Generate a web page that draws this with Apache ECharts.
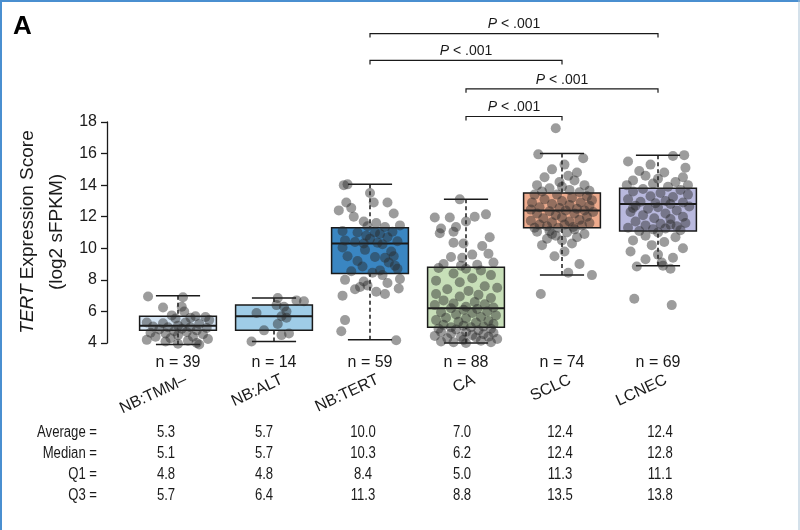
<!DOCTYPE html>
<html>
<head>
<meta charset="utf-8">
<script src="https://cdn.jsdelivr.net/npm/echarts@6/dist/echarts.min.js"></script>
<style>
  html, body { margin: 0; padding: 0; background: #ffffff; }
  #chart { width: 800px; height: 530px; }
</style>
</head>
<body>
<div id="chart"></div>
<script>
// ---------------- data ----------------
const categories = ['NB:TMM\u2013', 'NB:ALT', 'NB:TERT', 'CA', 'SCLC', 'LCNEC'];
const counts = [39, 14, 59, 88, 74, 69];
const average = [5.3, 5.7, 10.0, 7.0, 12.4, 12.4];
const median = [5.1, 5.7, 10.3, 6.2, 12.4, 12.8];
const q1 = [4.8, 4.8, 8.4, 5.0, 11.3, 11.1];
const q3 = [5.7, 6.4, 11.3, 8.8, 13.5, 13.8];
const whiskerLow = [3.9, 4.1, 4.2, 4.0, 8.3, 8.9];
const whiskerHigh = [7.0, 6.85, 14.05, 13.1, 16.0, 15.9];
const yTicks = { min: 4, max: 18, interval: 2 };
const boxColors = ['#d5e5f4', '#9fcce7', '#3a86c2', '#c7dfb8', '#eeab8d', '#b9b9de'];
// significance brackets: [from category, to category, height in axis units]
const brackets = [[2, 5, 23.6], [2, 4, 21.9], [3, 5, 20.1], [3, 4, 18.35]];
const bracketLabel = 'P < .001';

// jittered points per group: [horizontal jitter (category units), value]
const ptsTMM = [[-0.24,6.95],[0.04,6.9],[0.03,6.3],[-0.12,6.25],[0.05,6.0],[-0.05,5.75],[0.14,5.7],[0.22,5.65],[0.1,5.6],[-0.02,5.55],[0.25,5.45],[-0.25,5.3],[-0.12,5.25],[0.06,5.3],[0.17,5.2],[0.0,5.1],[-0.2,5.05],[-0.08,5.0],[0.1,5.0],[0.23,4.95],[0.03,4.9],[-0.15,4.85],[0.15,4.8],[-0.03,4.75],[0.07,4.7],[-0.22,4.65],[-0.1,4.6],[0.2,4.55],[0.0,4.5],[-0.18,4.4],[0.12,4.4],[-0.06,4.3],[0.24,4.25],[-0.25,4.2],[0.08,4.15],[-0.1,4.1],[0.15,4.0],[0.0,3.95],[0.17,3.9]];
const ptsALT = [[0.03,6.85],[0.24,6.65],[0.18,6.7],[0.02,6.4],[0.08,6.3],[0.1,6.0],[-0.14,5.9],[0.06,5.7],[0.1,5.6],[0.03,5.2],[-0.08,4.8],[0.12,4.6],[-0.18,4.1],[0.06,4.5]];
const ptsTERT = [[-0.21,14.0],[-0.18,14.05],[0.0,13.5],[-0.19,12.9],[0.03,12.9],[0.14,12.9],[-0.15,12.55],[-0.25,12.4],[0.19,12.2],[-0.13,12.0],[-0.05,11.7],[0.05,11.6],[0.24,11.45],[-0.02,11.4],[0.12,11.35],
  [-0.22,11.1],[-0.1,11.0],[0.04,11.0],[0.18,11.05],[0.08,10.9],[-0.03,10.8],[0.14,10.7],[0.0,10.6],[-0.2,10.5],[0.22,10.45],[-0.12,10.4],[0.06,10.35],[-0.05,10.3],[0.1,10.25],[-0.22,10.05],[-0.04,9.9],[0.17,9.8],[-0.18,9.5],[0.04,9.45],[0.19,9.5],[0.12,9.4],[-0.1,9.2],[0.15,9.1],[0.2,8.9],[-0.06,8.85],[0.22,8.7],[0.08,8.6],[-0.15,8.55],[0.02,8.45],
  [0.1,8.3],[-0.2,8.0],[0.24,8.05],[-0.05,7.9],[0.14,7.8],[-0.02,7.65],[0.23,7.45],[-0.12,7.4],[0.05,7.25],[-0.22,7.0],[0.12,7.1],[-0.2,5.45],[-0.23,4.75],[0.21,4.17],[-0.08,7.55]];
const ptsCA = [[-0.05,13.1],[-0.25,11.95],[-0.13,11.95],[0.16,12.15],[0.07,12.0],[0.0,11.7],[-0.2,11.25],[-0.08,11.35],[-0.21,10.95],[-0.1,11.05],[0.19,10.7],[-0.1,10.35],[0.13,10.15],[-0.02,10.3],[0.18,9.65],[-0.12,9.45],[-0.03,9.4],[0.22,9.1],[0.05,9.6],[-0.18,9.0],[0.09,8.95],[-0.04,8.9],
  [-0.22,8.75],[0.0,8.7],[0.12,8.6],[-0.1,8.4],[0.2,8.3],[0.05,8.1],[-0.24,7.95],[-0.05,7.85],[0.15,7.6],[0.25,7.5],[-0.15,7.4],[0.02,7.3],[-0.24,7.1],[0.1,7.05],[-0.05,6.95],[0.2,6.85],[-0.18,6.7],[0.07,6.6],[-0.1,6.5],[0.15,6.45],[-0.25,6.4],[0.0,6.3],[0.22,6.25],[-0.12,6.2],[0.09,6.15],[-0.02,6.1],[0.17,6.0],[-0.2,5.95],[0.05,5.9],[-0.08,5.8],[0.24,5.75],[0.12,5.65],[-0.16,5.6],[0.0,5.55],[-0.24,5.45],[0.18,5.4],[-0.06,5.35],[0.08,5.3],[0.22,5.2],[-0.18,5.15],[-0.02,5.1],[0.14,5.05],[-0.12,5.0],[0.04,5.0],
  [-0.22,4.9],[0.2,4.9],[-0.08,4.85],[0.1,4.8],[-0.2,4.7],[0.0,4.7],[0.22,4.65],[-0.12,4.6],[0.14,4.55],[0.05,4.5],[-0.25,4.45],[-0.04,4.4],[0.18,4.4],[0.08,4.35],[-0.15,4.3],[0.25,4.25],[-0.02,4.2],[0.12,4.15],[-0.2,4.1],[0.2,4.05],[0.0,4.0],[-0.1,4.05]];
const ptsSCLC = [[-0.05,17.6],[-0.19,15.95],[0.17,15.7],[0.02,15.3],[-0.08,15.0],[0.12,14.8],[-0.14,14.5],[0.05,14.6],[-0.02,14.2],[0.1,14.3],[-0.2,14.0],[0.18,14.0],[0.0,13.9],[-0.1,13.8],[0.06,13.7],[0.22,13.65],[-0.16,13.6],[0.14,13.55],
  [-0.22,13.4],[-0.04,13.4],[0.2,13.3],[0.08,13.2],[-0.14,13.1],[0.24,13.05],[0.0,13.0],[-0.24,12.9],[0.15,12.9],[-0.08,12.8],[0.06,12.75],[0.22,12.7],[-0.18,12.6],[-0.02,12.55],[0.12,12.5],[-0.25,12.45],[0.18,12.4],[0.03,12.4],[-0.1,12.35],[0.25,12.3],[-0.2,12.2],[0.1,12.2],[-0.05,12.1],[0.2,12.0],[0.0,11.95],[-0.15,11.9],[0.14,11.8],[-0.25,11.75],[0.06,11.7],[-0.08,11.65],[0.22,11.6],[-0.18,11.5],[0.02,11.5],[0.16,11.45],[-0.12,11.4],[0.09,11.35],[-0.03,11.3],[-0.22,11.3],
  [0.1,11.2],[-0.1,11.1],[0.04,11.0],[-0.2,11.05],[0.18,10.9],[-0.05,10.8],[0.12,10.7],[-0.12,10.6],[0.0,10.5],[-0.16,10.2],[0.08,10.3],[0.02,9.8],[-0.06,9.5],[0.14,9.0],[0.05,8.45],[0.24,8.3],[-0.17,7.1],[-0.08,10.9]];
const ptsLCNEC = [[0.21,15.9],[0.12,15.85],[-0.24,15.5],[-0.06,15.3],[0.22,15.1],[-0.15,14.9],[0.05,14.8],[-0.1,14.6],[0.2,14.5],[-0.2,14.3],[0.0,14.4],[0.14,14.2],[-0.04,14.1],[-0.25,14.0],[0.24,14.0],[0.08,13.9],
  [-0.12,13.75],[0.18,13.7],[-0.2,13.6],[0.02,13.5],[0.24,13.4],[-0.06,13.3],[0.12,13.25],[-0.24,13.1],[0.06,13.0],[-0.14,12.95],[0.2,12.9],[-0.02,12.85],[0.1,12.8],[-0.18,12.7],[0.25,12.65],[0.0,12.6],[-0.08,12.5],[0.15,12.4],[-0.22,12.3],[0.06,12.2],[-0.12,12.1],[0.2,12.0],[-0.03,11.9],[0.1,11.85],[-0.18,11.7],[0.22,11.6],[0.02,11.55],[-0.1,11.45],[0.15,11.4],[-0.24,11.3],[0.06,11.25],[-0.04,11.2],[0.18,11.15],[-0.15,11.1],[0.1,11.5],[-0.2,12.55],
  [0.0,11.0],[-0.1,10.8],[0.14,10.7],[-0.2,10.5],[0.05,10.4],[-0.05,10.2],[0.2,10.0],[-0.22,9.8],[0.0,9.6],[-0.1,9.3],[0.12,9.4],[0.03,9.1],[-0.17,8.85],[0.04,8.9],[0.1,8.7],[-0.19,6.8],[0.11,6.4]];
const groupPoints = [ptsTMM, ptsALT, ptsTERT, ptsCA, ptsSCLC, ptsLCNEC];
const tableRows = [['Average =', average], ['Median =', median], ['Q1 =', q1], ['Q3 =', q3]];

// ---------------- chart ----------------
const FONT = "'Liberation Sans', Arial, Helvetica, sans-serif";
const INK = '#1a1a1a';
const JITTER_WIDTH = 1.3; // visual spread of the jittered points
const chart = echarts.init(document.getElementById('chart'), null, { renderer: 'canvas' });

const boxData = categories.map((c, i) => [i, whiskerLow[i], q1[i], median[i], q3[i], whiskerHigh[i]]);
const scatterData = [];
groupPoints.forEach((pts, g) => pts.forEach(p => scatterData.push([g + p[0] * JITTER_WIDTH, p[1]])));

function renderBox(params, api) {
  const i = api.value(0);
  const lo = api.value(1), a = api.value(2), m = api.value(3), b = api.value(4), hi = api.value(5);
  const hw = 0.4, cw = 0.23;
  const tl = api.coord([i - hw, b]);
  const br = api.coord([i + hw, a]);
  const cm1 = api.coord([i - hw, m]), cm2 = api.coord([i + hw, m]);
  const top = api.coord([i, hi]), bot = api.coord([i, lo]);
  const boxTop = api.coord([i, b]), boxBot = api.coord([i, a]);
  const capL = api.coord([i - cw, hi]), capR = api.coord([i + cw, hi]);
  const capL2 = api.coord([i - cw, lo]), capR2 = api.coord([i + cw, lo]);
  const ls = { stroke: INK, lineWidth: 1.5 };
  return {
    type: 'group',
    children: [
      { type: 'line', shape: { x1: top[0], y1: top[1], x2: boxTop[0], y2: boxTop[1] }, style: Object.assign({ lineDash: [4, 3] }, ls) },
      { type: 'line', shape: { x1: bot[0], y1: bot[1], x2: boxBot[0], y2: boxBot[1] }, style: Object.assign({ lineDash: [4, 3] }, ls) },
      { type: 'line', shape: { x1: capL[0], y1: capL[1], x2: capR[0], y2: capR[1] }, style: ls },
      { type: 'line', shape: { x1: capL2[0], y1: capL2[1], x2: capR2[0], y2: capR2[1] }, style: ls },
      { type: 'rect', shape: { x: tl[0], y: tl[1], width: br[0] - tl[0], height: br[1] - tl[1] }, style: { fill: boxColors[i], stroke: INK, lineWidth: 1.5 } },
      { type: 'line', shape: { x1: cm1[0], y1: cm1[1], x2: cm2[0], y2: cm2[1] }, style: { stroke: INK, lineWidth: 2 } }
    ]
  };
}

function renderBracket(params, api) {
  const p1 = api.coord([api.value(0), api.value(2)]);
  const p2 = api.coord([api.value(1), api.value(2)]);
  const drop = 4;
  return {
    type: 'group',
    children: [
      { type: 'polyline', shape: { points: [[p1[0], p1[1] + drop], [p1[0], p1[1]], [p2[0], p2[1]], [p2[0], p2[1] + drop]] },
        style: { stroke: INK, lineWidth: 1.2, fill: null } },
      { type: 'text', x: (p1[0] + p2[0]) / 2, y: p1[1] - 9,
        style: { text: '{p|P} < .001', rich: { p: { fontStyle: 'italic', fontSize: 14, fontFamily: FONT, fill: INK } },
          fontSize: 14, fontFamily: FONT, fill: INK, align: 'center', verticalAlign: 'middle' } }
    ]
  };
}

function renderLabels(params, api) {
  const i = api.value(0);
  const p = api.coord([i, yTicks.min]);
  return {
    type: 'group',
    children: [
      { type: 'text', x: p[0], y: p[1] + 20,
        style: { text: 'n = ' + counts[i], fontSize: 16, fontFamily: FONT, fill: INK, align: 'center', verticalAlign: 'middle' } },
      { type: 'text', x: p[0] + 8, y: p[1] + 36, rotation: 25 * Math.PI / 180,
        style: { text: categories[i], fontSize: 16, fontFamily: FONT, fill: INK, align: 'right', verticalAlign: 'middle' } }
    ]
  };
}

const tableX = [166, 264, 363, 462, 560, 660];
const tableY = [433, 454, 475, 496];
const graphics = [
  { type: 'text', left: 13, top: 14, style: { text: 'A', fontSize: 26, fontWeight: 'bold', fontFamily: FONT, fill: '#000' } },
  { type: 'text', x: 28, y: 232, rotation: Math.PI / 2,
    style: { text: '{i|TERT} Expression Score', rich: { i: { fontStyle: 'italic', fontSize: 19, fontFamily: FONT, fill: INK } },
      fontSize: 19, fontFamily: FONT, fill: INK, align: 'center', verticalAlign: 'middle' } },
  { type: 'text', x: 57, y: 232, rotation: Math.PI / 2,
    style: { text: '(log2 sFPKM)', fontSize: 19, fontFamily: FONT, fill: INK, align: 'center', verticalAlign: 'middle' } },
  { type: 'line', shape: { x1: 1, y1: 0, x2: 1, y2: 530 }, style: { stroke: '#4a8fd0', lineWidth: 2 } },
  { type: 'line', shape: { x1: 0, y1: 1, x2: 800, y2: 1 }, style: { stroke: '#4a8fd0', lineWidth: 2 } },
  { type: 'line', shape: { x1: 799, y1: 0, x2: 799, y2: 530 }, style: { stroke: '#a9c3d6', lineWidth: 1 } }
];
tableRows.forEach((row, r) => {
  graphics.push({ type: 'text', x: 97, y: tableY[r], scaleX: 0.82,
    style: { text: row[0], fontSize: 16, fontFamily: FONT, fill: INK, align: 'right', verticalAlign: 'middle' } });
  row[1].forEach((v, c) => {
    graphics.push({ type: 'text', x: tableX[c], y: tableY[r], scaleX: 0.82,
      style: { text: v.toFixed(1), fontSize: 16, fontFamily: FONT, fill: INK, align: 'center', verticalAlign: 'middle' } });
  });
});

chart.setOption({
  animation: false,
  backgroundColor: '#ffffff',
  grid: { left: 130, right: 94, top: 122, bottom: 187 },
  xAxis: { type: 'value', min: -0.5, max: categories.length - 0.5, show: false },
  yAxis: {
    type: 'value', min: yTicks.min, max: yTicks.max, interval: yTicks.interval, offset: 23, position: 'left',
    axisLine: { show: true, onZero: false, lineStyle: { color: INK, width: 1.3 } },
    axisTick: { show: true, length: 6, lineStyle: { color: INK, width: 1.3 } },
    axisLabel: { fontSize: 16, color: INK, fontFamily: FONT, margin: 10 },
    splitLine: { show: false }
  },
  series: [
    { type: 'custom', name: 'box', renderItem: renderBox, data: boxData, clip: false, encode: { x: 0, y: [1, 2, 3, 4, 5] }, z: 2 },
    { type: 'scatter', name: 'points', data: scatterData, symbolSize: 10, clip: false,
      itemStyle: { color: 'rgba(40,40,40,0.58)' }, z: 3 },
    { type: 'custom', name: 'brackets', renderItem: renderBracket, data: brackets, clip: false, encode: { x: [0, 1], y: 2 }, z: 4 },
    { type: 'custom', name: 'labels', renderItem: renderLabels, data: categories.map((c, i) => [i]), clip: false, encode: { x: 0 }, z: 4 }
  ],
  graphic: graphics
});
</script>
</body>
</html>
